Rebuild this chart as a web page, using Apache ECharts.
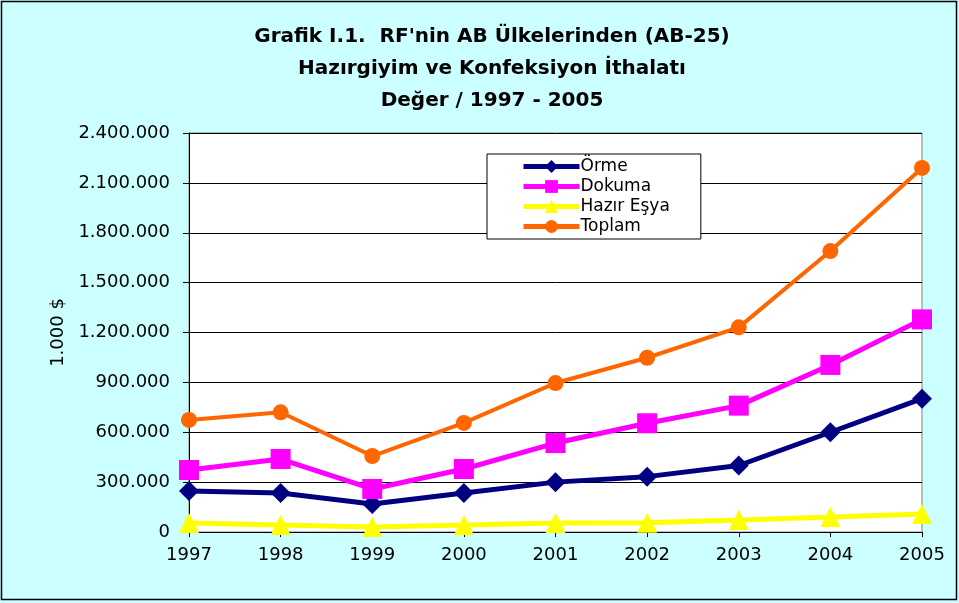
<!DOCTYPE html>
<html>
<head>
<meta charset="utf-8">
<script src="https://cdn.jsdelivr.net/npm/echarts@6/dist/echarts.min.js"></script>
<style>
  html, body { margin: 0; padding: 0; background: #ccffff; }
  #chart { width: 959px; height: 603px; }
</style>
</head>
<body>
<div id="chart"></div>
<script>
// veriler (1.000 $)
const years = ['1997', '1998', '1999', '2000', '2001', '2002', '2003', '2004', '2005']
const orme = [247000, 235000, 168000, 235000, 300000, 333000, 400000, 600000, 802000]
const dokuma = [373000, 439000, 259000, 379000, 535000, 654000, 760000, 1005000, 1279000]
const hazirEsya = [54000, 42000, 30000, 42000, 54000, 56000, 72000, 90000, 108000]
const toplam = [674000, 720000, 457000, 656000, 896000, 1048000, 1231000, 1690000, 2190000]

const font = '"DejaVu Sans", Arial, sans-serif'

// binlik ayraç nokta
const fmt = (v) => String(v).replace(/\B(?=(\d{3})+(?!\d))/g, '.')

const chart = echarts.init(document.getElementById('chart'))

const lineSeries = (name, data, color, symbol, size, width) => ({
  name,
  type: 'line',
  data,
  symbol,
  symbolSize: size,
  lineStyle: { color, width },
  itemStyle: { color },
  animation: false,
  emphasis: { disabled: true }
})

const option = {
  backgroundColor: '#ccffff',
  textStyle: { fontFamily: font },
  title: {
    text: "Grafik I.1.  RF'nin AB Ülkelerinden (AB-25)\nHazırgiyim ve Konfeksiyon İthalatı\nDeğer / 1997 - 2005",
    left: 487,
    top: 16,
    textAlign: 'center',
    textStyle: {
      fontFamily: font,
      fontSize: 20,
      fontWeight: 'bold',
      color: '#000',
      lineHeight: 32
    }
  },
  legend: {
    orient: 'vertical',
    left: 487,
    top: 154,
    padding: [4, 31, 4, 34],
    backgroundColor: '#fff',
    borderColor: '#000',
    borderWidth: 1,
    borderRadius: 0,
    itemWidth: 56,
    itemHeight: 16,
    itemGap: 3,
    lineStyle: { width: 5 },
    textStyle: { fontFamily: font, fontSize: 17, lineHeight: 16, color: '#000', padding: [0, 0, 0, -4] },
    data: ['Örme', 'Dokuma', 'Hazır Eşya', 'Toplam']
  },
  grid: {
    left: 189,
    right: 37,
    top: 133,
    bottom: 71,
    show: true,
    backgroundColor: '#fff',
    borderColor: '#808080',
    borderWidth: 1
  },
  xAxis: {
    type: 'category',
    data: years,
    boundaryGap: false,
    axisLine: { lineStyle: { color: '#000', width: 1 } },
    axisTick: { show: true, length: 5, lineStyle: { color: '#000' } },
    axisLabel: { fontFamily: font, fontSize: 18, color: '#000', margin: 14 }
  },
  yAxis: {
    type: 'value',
    min: 0,
    max: 2400000,
    interval: 300000,
    name: '1.000 $',
    nameLocation: 'middle',
    nameRotate: 90,
    nameGap: 122,
    nameTextStyle: { fontFamily: font, fontSize: 18, color: '#000' },
    axisLine: { show: true, lineStyle: { color: '#000', width: 1 } },
    axisTick: { show: true, length: 6, lineStyle: { color: '#000' } },
    axisLabel: { fontFamily: font, fontSize: 18, color: '#000', margin: 19, formatter: fmt },
    splitLine: { lineStyle: { color: '#000', width: 1 } }
  },
  graphic: [
    {
      type: 'rect',
      shape: { x: 1.5, y: 1.5, width: 955, height: 598 },
      style: { fill: 'none', stroke: '#000', lineWidth: 1.5 },
      z: 100
    }
  ],
  series: [
    lineSeries('Örme', orme, '#000080', 'diamond', 20, 5),
    lineSeries('Dokuma', dokuma, '#ff00ff', 'rect', 20, 5),
    lineSeries('Hazır Eşya', hazirEsya, '#ffff00', 'triangle', 20, 5),
    lineSeries('Toplam', toplam, '#ff6600', 'circle', 16, 4)
  ]
}

chart.setOption(option)
</script>
</body>
</html>
